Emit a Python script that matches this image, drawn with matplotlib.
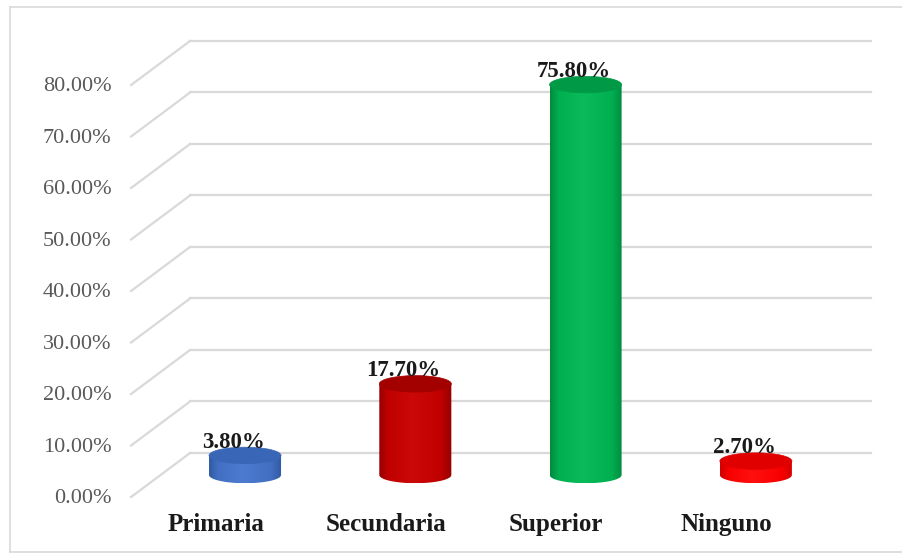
import matplotlib
matplotlib.use("Agg")
import matplotlib.pyplot as plt
import numpy as np
from matplotlib.colors import LinearSegmentedColormap
from matplotlib.patches import Ellipse, PathPatch
from matplotlib.path import Path
from matplotlib.lines import Line2D

categories = ["Primaria", "Secundaria", "Superior", "Ninguno"]
values = [3.8, 17.7, 75.8, 2.7]
tick_values = [0, 10, 20, 30, 40, 50, 60, 70, 80]
tick_labels = [f"{v:.2f}%" for v in tick_values]

# body colours: edge, middle, highlight ; top face colour
bar_colors = [
    ("#2f5aa3", "#426fc2", "#4d7bcf", "#3a66b8"),
    ("#960000", "#c00000", "#cc0808", "#a30000"),
    ("#00893e", "#00b050", "#0abb5a", "#009a47"),
    ("#d00000", "#f80000", "#ff1010", "#e00000"),
]

# layout (data units: x = category index, y = percent)
DEPTH_X = 0.173
DEPTH_Y = 4.27
BAR_W = 0.423
TOP_H = 3.2
WALL_LEFT = -0.323
WALL_RIGHT = 3.676
GRID_COLOR = "#d9d9d9"
FONT = "Liberation Serif"

fig = plt.figure(figsize=(9.03, 5.56), dpi=100)
ax = fig.add_axes([0, 0, 1, 1])
ax.set_xlim(-1.439, 3.864)
ax.set_ylim(-15.73, 92.23)
ax.axis("off")

# outer chart border
fig.add_artist(Line2D([10 / 903, 10 / 903], [4 / 556, 549 / 556], color=GRID_COLOR, lw=1.2))
fig.add_artist(Line2D([10 / 903, 1.0], [4 / 556, 4 / 556], color=GRID_COLOR, lw=1.2))
fig.add_artist(Line2D([10 / 903, 1.0], [549 / 556, 549 / 556], color=GRID_COLOR, lw=1.2))

# back wall + side wall gridlines
for v, lab in zip(tick_values, tick_labels):
    ax.plot([WALL_LEFT, WALL_RIGHT], [v + DEPTH_Y, v + DEPTH_Y], color=GRID_COLOR, lw=1.6, zorder=1)
    ax.plot([WALL_LEFT - 2 * DEPTH_X, WALL_LEFT], [v - DEPTH_Y, v + DEPTH_Y],
            color=GRID_COLOR, lw=1.6, zorder=1)
    ax.text(WALL_LEFT - 2 * DEPTH_X - 0.115, v - DEPTH_Y - 0.3, lab, ha="right", va="center",
            fontsize=16, color="#595959", family=FONT)

# cylinders
for i, (cat, val, cols) in enumerate(zip(categories, values, bar_colors)):
    edge, mid, light, top = cols
    left, right = i - BAR_W / 2, i + BAR_W / 2
    t = np.linspace(np.pi, 2 * np.pi, 60)
    verts = [(left, val), (left, 0)]
    verts += list(zip(i + BAR_W / 2 * np.cos(t), TOP_H / 2 * np.sin(t)))
    verts += [(right, val), (left, val)]
    codes = [Path.MOVETO] + [Path.LINETO] * (len(verts) - 2) + [Path.CLOSEPOLY]
    body = PathPatch(Path(verts, codes), facecolor="none", edgecolor="none", zorder=3)
    ax.add_patch(body)
    cmap = LinearSegmentedColormap.from_list(
        f"c{i}", [(0, edge), (0.12, mid), (0.45, light), (0.85, mid), (1, edge)])
    grad = np.linspace(0, 1, 200).reshape(1, -1)
    im = ax.imshow(grad, cmap=cmap, extent=(left, right, -TOP_H / 2, val),
                   aspect="auto", zorder=3, interpolation="bilinear")
    im.set_clip_path(body)
    ax.add_patch(Ellipse((i, val), BAR_W, TOP_H, facecolor=top, edgecolor=top, lw=0.5, zorder=4))

    ax.text(i - 0.07, val + 2.6, f"{val:.2f}%", ha="center", va="center",
            fontsize=16.5, fontweight="bold", color="#1a1a1a", family=FONT, zorder=5)
    ax.text(i - DEPTH_X, -9.6, cat, ha="center", va="center",
            fontsize=18, fontweight="bold", color="#1a1a1a", family=FONT)

fig.savefig("out.png", dpi=100)
